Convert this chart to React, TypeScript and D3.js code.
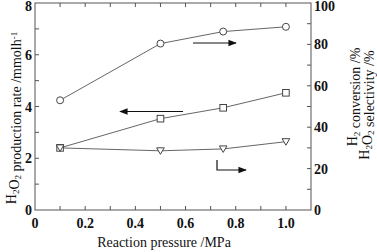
import React from 'react';
import * as d3 from 'd3';

// reaction pressure (MPa)
const pressure = [0.1, 0.5, 0.75, 1.0];
// H2O2 production rate, left axis (mmol/h)
const production = [2.4, 3.53, 3.95, 4.53];
// H2 conversion, right axis (%)
const conversion = [53, 80.4, 86.2, 88.5];
// H2O2 selectivity, right axis (%)
const selectivity = [30, 28.6, 29.5, 33];

const xTickLabels = [0, 0.2, 0.4, 0.6, 0.8, 1.0];
const xMinorTicks = [0.1, 0.2, 0.3, 0.4, 0.5, 0.6, 0.7, 0.8, 0.9, 1.0];
const leftTickLabels = [0, 2, 4, 6, 8];
const leftMinorTicks = [1, 2, 3, 4, 5, 6, 7];
const rightTickLabels = [0, 20, 40, 60, 80, 100];
const rightMinorTicks = [10, 20, 30, 40, 50, 60, 70, 80, 90];

const W = 377;
const H = 252;
const m = { left: 35, right: 311, top: 3, bottom: 210 };
const lineColor = '#666';
const font = "'Liberation Serif', 'DejaVu Serif', serif";

const App = () => {
  const x = d3.scaleLinear().domain([0, 1.1]).range([m.left, m.right]);
  const yL = d3.scaleLinear().domain([0, 8]).range([m.bottom, m.top]);
  const yR = d3.scaleLinear().domain([0, 100]).range([m.bottom, m.top]);

  const lineL = d3.line<number>().x((_, i) => x(pressure[i])).y(d => yL(d));
  const lineR = d3.line<number>().x((_, i) => x(pressure[i])).y(d => yR(d));

  const tk = 4;
  // subscript then return to baseline
  const sub = (s: string) => [
    <tspan key="a" dy="2.5" fontSize="9">{s}</tspan>,
    <tspan key="b" dy="-2.5"></tspan>,
  ];
  const ts = { fontFamily: font };

  return (
    <svg width={W} height={H} style={{ position: 'absolute', left: 0, top: 0, background: '#fff', fontFamily: font }}>
      <defs>
        <marker id="ah" viewBox="0 0 10 10" refX="9" refY="5" markerWidth="7" markerHeight="7" orient="auto-start-reverse">
          <path d="M0,1 L10,5 L0,9 z" fill="#111" />
        </marker>
      </defs>
      {/* frame */}
      <rect x={m.left} y={m.top} width={m.right - m.left} height={m.bottom - m.top} fill="none" stroke="#555" strokeWidth={1} />

      {/* x ticks, bottom + top, inward */}
      {xMinorTicks.map(t => (
        <g key={'x' + t} stroke="#555">
          <line x1={x(t)} x2={x(t)} y1={m.bottom} y2={m.bottom - tk} />
          <line x1={x(t)} x2={x(t)} y1={m.top} y2={m.top + tk} />
        </g>
      ))}
      {xTickLabels.map(t => (
        <text key={'xl' + t} x={x(t)} y={228} textAnchor="middle" fontSize="14" fontWeight="bold" fill="#111" style={ts}>
          {t === 0 ? '0' : t.toFixed(1)}
        </text>
      ))}

      {/* left ticks */}
      {leftMinorTicks.map(t => (
        <line key={'l' + t} x1={m.left} x2={m.left + tk} y1={yL(t)} y2={yL(t)} stroke="#555" />
      ))}
      {leftTickLabels.map(t => (
        <text key={'ll' + t} x={m.left - 3} y={Math.max(yL(t) + 5, 11)} textAnchor="end" fontSize="14" fontWeight="bold" fill="#111" style={ts}>{t}</text>
      ))}

      {/* right ticks */}
      {rightMinorTicks.map(t => (
        <line key={'r' + t} x1={m.right} x2={m.right - tk} y1={yR(t)} y2={yR(t)} stroke="#555" />
      ))}
      {rightTickLabels.map(t => (
        <text key={'rl' + t} x={m.right + 3} y={Math.max(yR(t) + 5, 11)} textAnchor="start" fontSize="14" fontWeight="bold" fill="#111" style={ts}>{t}</text>
      ))}

      {/* axis titles */}
      <text x={164} y={247} textAnchor="middle" fontSize="14" fill="#111" style={ts}>Reaction pressure /MPa</text>
      <text transform={`translate(16,118) rotate(-90)`} textAnchor="middle" fontSize="14" fill="#111" style={ts}>
        H{sub('2')}O{sub('2')} production rate /mmolh<tspan dy="-4" fontSize="9">-1</tspan>
      </text>
      <text transform={`translate(357,97) rotate(-90)`} textAnchor="middle" fontSize="14" fill="#111" style={ts}>
        H{sub('2')} conversion /%
      </text>
      <text transform={`translate(369,105) rotate(-90)`} textAnchor="middle" fontSize="14" fill="#111" style={ts}>
        H{sub('2')}O{sub('2')} selectivity /%
      </text>

      {/* series lines */}
      <path d={lineR(conversion) ?? ''} fill="none" stroke={lineColor} strokeWidth={1} />
      <path d={lineL(production) ?? ''} fill="none" stroke={lineColor} strokeWidth={1} />
      <path d={lineR(selectivity) ?? ''} fill="none" stroke={lineColor} strokeWidth={1} />

      {/* markers */}
      {conversion.map((v, i) => (
        <circle key={'c' + i} cx={x(pressure[i])} cy={yR(v)} r={3.5} fill="#fff" stroke="#444" />
      ))}
      {production.map((v, i) => (
        <rect key={'s' + i} x={x(pressure[i]) - 3.3} y={yL(v) - 3.3} width={6.6} height={6.6} fill="#fff" stroke="#444" />
      ))}
      {selectivity.map((v, i) => {
        const cx = x(pressure[i]);
        const cy = yR(v);
        return <path key={'t' + i} d={`M${cx - 3.8},${cy - 3} L${cx + 3.8},${cy - 3} L${cx},${cy + 3.5} Z`} fill="#fff" stroke="#444" />;
      })}

      {/* arrows indicating axes */}
      <line x1={193} x2={236} y1={43} y2={43} stroke="#111" strokeWidth={1.2} markerEnd="url(#ah)" />
      <line x1={183} x2={120} y1={111.5} y2={111.5} stroke="#111" strokeWidth={1.2} markerEnd="url(#ah)" />
      <path d="M217,160 L217,170 L246,170" fill="none" stroke="#111" strokeWidth={1.2} markerEnd="url(#ah)" />
    </svg>
  );
};

export default App;
